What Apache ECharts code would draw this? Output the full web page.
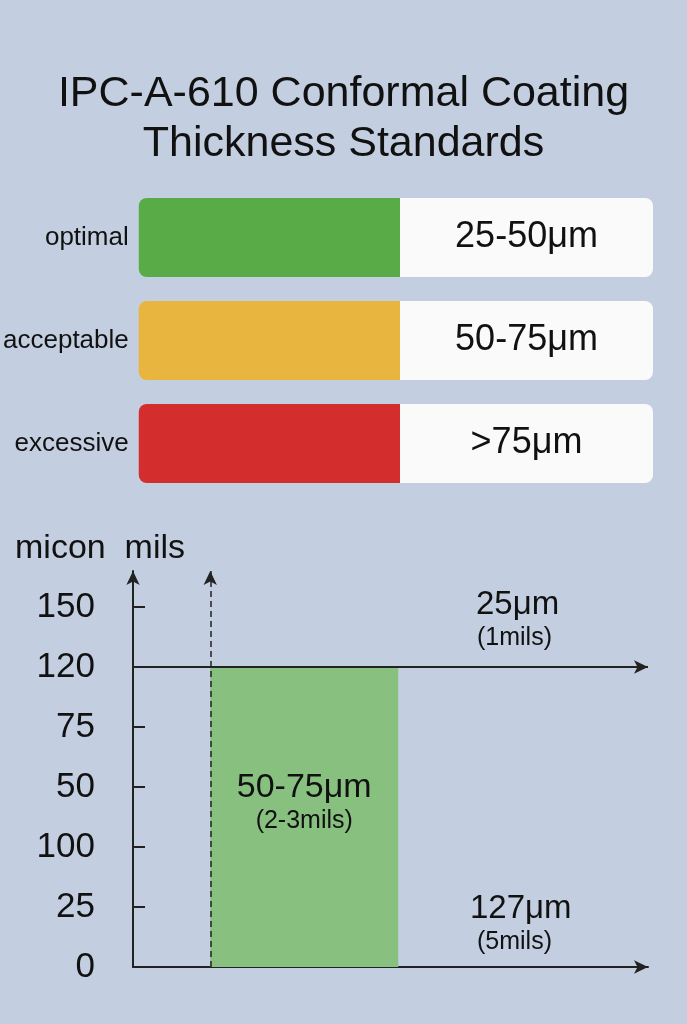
<!DOCTYPE html>
<html>
<head>
<meta charset="utf-8">
<script src="https://cdn.jsdelivr.net/npm/echarts@6/dist/echarts.min.js"></script>
<style>html,body{margin:0;padding:0;background:#c3cfe0;}#main{width:687px;height:1024px;}</style>
</head>
<body>
<div id="main"></div>
<script>
// top bars
var levelNames = ['optimal', 'acceptable', 'excessive'];
var levelRanges = ['25-50μm', '50-75μm', '>75μm'];
var levelColors = ['#58ab47', '#e8b63e', '#d32d2d'];
var colorPart = [50.8, 50.8, 50.8];
var whitePart = [49.2, 49.2, 49.2];
// lower chart
var yTickLabels = ['0', '25', '100', '50', '75', '120', '150'];
var yTickValues = [0, 1, 2, 3, 4, 5, 6];
var bandStart = 15;
var bandEnd = 51.5;
var limitLevel = 5;

var myChart = echarts.init(document.getElementById('main'));
var font = 'Liberation Sans, Arial, sans-serif';

var option = {
	backgroundColor: '#c3cfe0',
	animation: false,
	title: {
		text: 'IPC-A-610 Conformal Coating\nThickness Standards',
		left: 'center',
		top: 64,
		textStyle: { fontSize: 43, fontWeight: 'normal', color: '#111', lineHeight: 50, fontFamily: font }
	},
	grid: [
		{ left: 135, width: 518, top: 186, height: 309 },
		{ left: 133, right: 39, top: 571, height: 396 }
	],
	xAxis: [
		{ gridIndex: 0, type: 'value', min: 0, max: 100, show: false },
		{
			gridIndex: 1, type: 'value', min: 0, max: 100,
			axisLine: { show: true, symbol: ['none', 'arrow'], symbolSize: [10, 14], lineStyle: { color: '#222', width: 2 } },
			axisTick: { show: false }, axisLabel: { show: false }, splitLine: { show: false }
		}
	],
	yAxis: [
		{
			gridIndex: 0, type: 'category', data: levelNames, inverse: true,
			axisLine: { show: false }, axisTick: { show: false },
			axisLabel: { margin: 10, fontSize: 26, color: '#111', fontFamily: font }
		},
		{
			gridIndex: 1, type: 'value', min: 0, max: 6.6, interval: 1,
			axisLine: { show: true, symbol: ['none', 'arrow'], symbolSize: [10, 14], lineStyle: { color: '#222', width: 2 } },
			axisTick: { show: true, inside: true, length: 12, customValues: yTickValues.slice(1), lineStyle: { color: '#222', width: 2 } },
			axisLabel: { margin: 38, fontSize: 35, color: '#111', fontFamily: font, customValues: yTickValues,
				formatter: function (v) { return yTickLabels[v] !== undefined ? yTickLabels[v] : ''; } },
			splitLine: { show: false }
		}
	],
	series: [
		{
			type: 'bar', stack: 'lv', xAxisIndex: 0, yAxisIndex: 0, barWidth: 79,
			data: colorPart.map(function (v, i) {
				return { value: v, itemStyle: { color: levelColors[i], borderRadius: [8, 0, 0, 8] } };
			})
		},
		{
			type: 'bar', stack: 'lv', xAxisIndex: 0, yAxisIndex: 0, barWidth: 79,
			itemStyle: { color: '#fafafa', borderRadius: [0, 8, 8, 0] },
			label: { show: true, position: 'inside', fontSize: 36, color: '#111', fontFamily: font,
				formatter: function (p) { return levelRanges[p.dataIndex]; } },
			data: whitePart
		},
		{
			type: 'line', xAxisIndex: 1, yAxisIndex: 1, data: [], symbol: 'none',
			markArea: {
				silent: true,
				itemStyle: { color: '#87c07f' },
				label: { show: true, position: 'inside', color: '#111', fontFamily: font,
					formatter: '{a|50-75μm}\n{b|(2-3mils)}',
					rich: { a: { fontSize: 34, lineHeight: 38 }, b: { fontSize: 25, lineHeight: 28 } },
					offset: [0, -15] },
				data: [[{ xAxis: bandStart, yAxis: 0 }, { xAxis: bandEnd, yAxis: limitLevel }]]
			},
			markLine: {
				silent: true, symbol: ['none', 'arrow'], symbolSize: [10, 14], label: { show: false },
				data: [
					[{ coord: [0, limitLevel], lineStyle: { color: '#222', width: 2, type: 'solid' } }, { coord: [100, limitLevel] }],
					[{ coord: [bandStart, 0], lineStyle: { color: '#222', width: 1.5, type: [6, 4] } }, { coord: [bandStart, 6.6] }]
				]
			}
		}
	],
	graphic: [
		{ type: 'text', left: 15, top: 532, style: { text: 'micon  mils', fontSize: 34, fill: '#111', fontFamily: font } },
		{ type: 'text', left: 476, top: 588, style: { text: '25μm', fontSize: 33, fill: '#111', fontFamily: font } },
		{ type: 'text', left: 477, top: 626, style: { text: '(1mils)', fontSize: 25, fill: '#111', fontFamily: font } },
		{ type: 'text', left: 470, top: 892, style: { text: '127μm', fontSize: 33, fill: '#111', fontFamily: font } },
		{ type: 'text', left: 477, top: 930, style: { text: '(5mils)', fontSize: 25, fill: '#111', fontFamily: font } }
	]
};
myChart.setOption(option);
</script>
</body>
</html>
